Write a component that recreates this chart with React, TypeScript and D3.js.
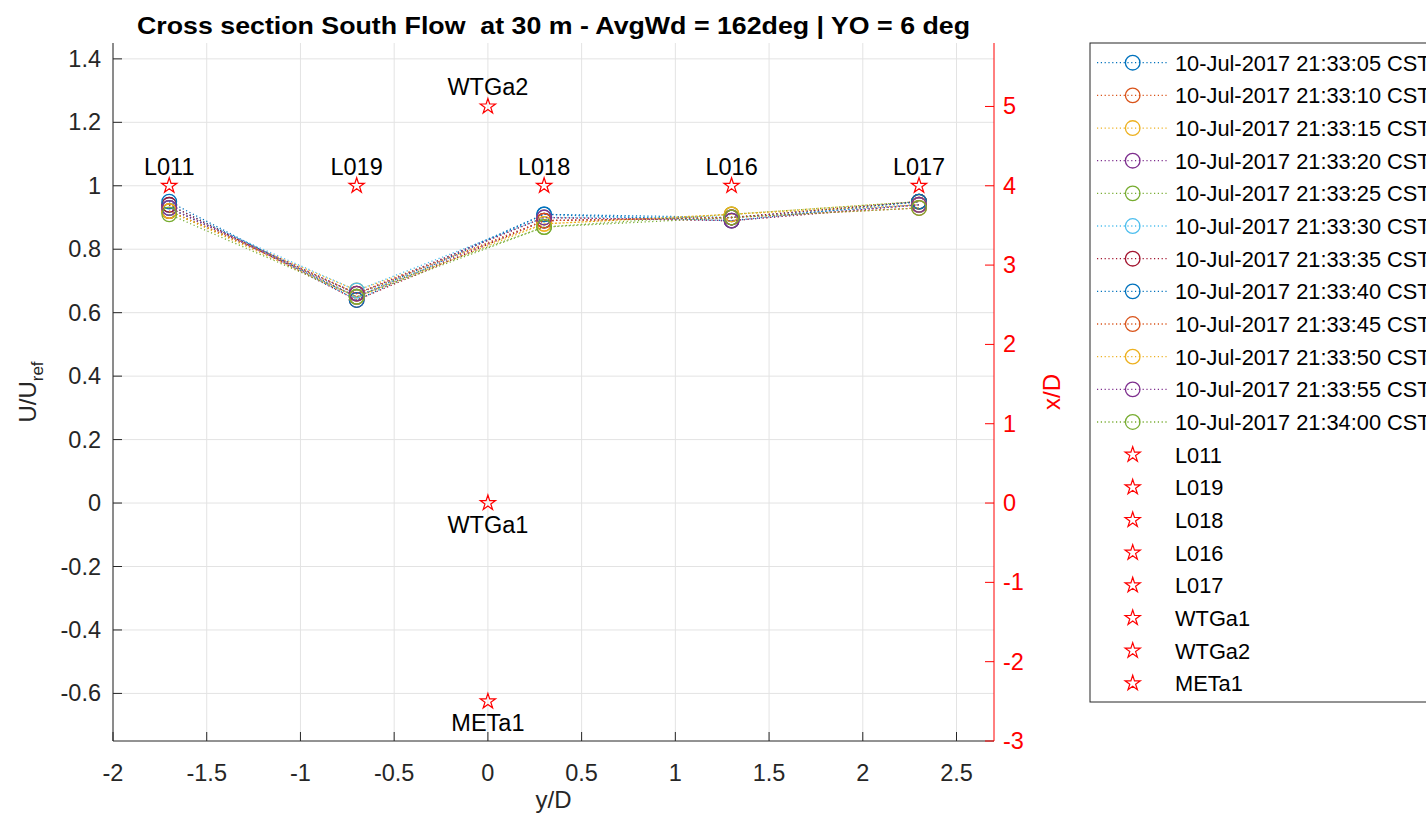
import React from "react";
import * as d3 from "d3";

const xPositions = [-1.7, -0.7, 0.3, 1.3, 2.3];
const seriesNames = [
  "10-Jul-2017 21:33:05 CST",
  "10-Jul-2017 21:33:10 CST",
  "10-Jul-2017 21:33:15 CST",
  "10-Jul-2017 21:33:20 CST",
  "10-Jul-2017 21:33:25 CST",
  "10-Jul-2017 21:33:30 CST",
  "10-Jul-2017 21:33:35 CST",
  "10-Jul-2017 21:33:40 CST",
  "10-Jul-2017 21:33:45 CST",
  "10-Jul-2017 21:33:50 CST",
  "10-Jul-2017 21:33:55 CST",
  "10-Jul-2017 21:34:00 CST",
];
const seriesValues = [
  [0.94, 0.65, 0.91, 0.9, 0.95],
  [0.93, 0.66, 0.9, 0.89, 0.94],
  [0.92, 0.67, 0.88, 0.91, 0.95],
  [0.93, 0.65, 0.89, 0.9, 0.94],
  [0.92, 0.66, 0.87, 0.91, 0.95],
  [0.93, 0.67, 0.9, 0.9, 0.94],
  [0.94, 0.64, 0.89, 0.9, 0.95],
  [0.95, 0.64, 0.91, 0.89, 0.95],
  [0.92, 0.66, 0.89, 0.9, 0.93],
  [0.92, 0.65, 0.88, 0.91, 0.94],
  [0.93, 0.66, 0.9, 0.89, 0.94],
  [0.91, 0.65, 0.87, 0.9, 0.93],
];
const seriesColors = [
  "#0072BD", "#D95319", "#EDB120", "#7E2F8E", "#77AC30", "#4DBEEE", "#A2142F",
  "#0072BD", "#D95319", "#EDB120", "#7E2F8E", "#77AC30",
];

const stationNames = ["L011", "L019", "L018", "L016", "L017", "WTGa1", "WTGa2", "METa1"];
const stationY = [-1.7, -0.7, 0.3, 1.3, 2.3, 0, 0, 0];
const stationX = [4, 4, 4, 4, 4, 0, 5, -2.5];
const stationLabelBelow = [false, false, false, false, false, true, false, true];

const xTicks = [-2, -1.5, -1, -0.5, 0, 0.5, 1, 1.5, 2, 2.5];
const leftTicks = [-0.6, -0.4, -0.2, 0, 0.2, 0.4, 0.6, 0.8, 1, 1.2, 1.4];
const rightTicks = [-3, -2, -1, 0, 1, 2, 3, 4, 5];

const FONT = "'Liberation Sans', Arial, Helvetica, sans-serif";
const AXC = "#262626";

export default function App() {
  const W = 1426, H = 824;
  const L = 113, R = 994, T = 43, B = 741;
  const x = d3.scaleLinear().domain([-2, 2.7]).range([L, R]);
  const yL = d3.scaleLinear().domain([-0.75, 1.45]).range([B, T]);
  const yR = d3.scaleLinear().domain([-3, 5.8]).range([B, T]);
  const line = d3.line<number>().x((_, i) => x(xPositions[i])).y((v) => yL(v));
  const star = d3.symbol().type(d3.symbolStar).size(72)() as string;
  const fmt = (v: number) => String(+v.toFixed(2));

  const legX = 1090, legTop = 43, legBottom = 702;
  const rowH = (683.3 - 62.7) / 19;
  const legendItems = [...seriesNames.map((n, i) => ({ n, i, kind: "s" })), ...stationNames.map((n, i) => ({ n, i, kind: "t" }))];

  return (
    <svg width={W} height={H} style={{ position: "absolute", left: 0, top: 0, background: "#fff" }} fontFamily={FONT}>
      <rect width={W} height={H} fill="#fff" />
      {xTicks.map((t) => (
        <line key={"gx" + t} x1={x(t)} x2={x(t)} y1={T} y2={B} stroke="#e3e3e3" strokeWidth={1} />
      ))}
      {leftTicks.map((t) => (
        <line key={"gy" + t} x1={L} x2={R} y1={yL(t)} y2={yL(t)} stroke="#e3e3e3" strokeWidth={1} />
      ))}
      {seriesValues.map((vals, si) => (
        <g key={"s" + si}>
          <path d={line(vals) as string} fill="none" stroke={seriesColors[si]} strokeWidth={1.3} strokeDasharray="1.2,2.6" />
          {vals.map((v, j) => (
            <circle key={j} cx={x(xPositions[j])} cy={yL(v)} r={7.3} fill="none" stroke={seriesColors[si]} strokeWidth={1.3} />
          ))}
        </g>
      ))}
      {stationNames.map((n, i) => (
        <g key={"st" + n}>
          <path d={star} transform={`translate(${x(stationY[i])},${yR(stationX[i])})`} fill="none" stroke="#ff0000" strokeWidth={1.2} />
          <text x={x(stationY[i])} y={yR(stationX[i]) + (stationLabelBelow[i] ? 30 : -11)} textAnchor="middle" fontSize={23.5} fill="#000">{n}</text>
        </g>
      ))}
      <line x1={L} x2={R} y1={B} y2={B} stroke={AXC} strokeWidth={1} />
      <line x1={L} x2={L} y1={T} y2={B} stroke={AXC} strokeWidth={1} />
      <line x1={R} x2={R} y1={T} y2={B} stroke="#ff0000" strokeWidth={1} />
      {xTicks.map((t) => (
        <g key={"xt" + t}>
          <line x1={x(t)} x2={x(t)} y1={B} y2={B - 9} stroke={AXC} />
          <text x={x(t)} y={781} textAnchor="middle" fontSize={23.5} fill={AXC}>{fmt(t)}</text>
        </g>
      ))}
      {leftTicks.map((t) => (
        <g key={"lt" + t}>
          <line x1={L} x2={L + 9} y1={yL(t)} y2={yL(t)} stroke={AXC} />
          <text x={101} y={yL(t) + 8} textAnchor="end" fontSize={23.5} fill={AXC}>{fmt(t)}</text>
        </g>
      ))}
      {rightTicks.map((t) => (
        <g key={"rt" + t}>
          <line x1={R} x2={R - 9} y1={yR(t)} y2={yR(t)} stroke="#ff0000" />
          <text x={1003} y={yR(t) + 8} textAnchor="start" fontSize={23.5} fill="#ff0000">{fmt(t)}</text>
        </g>
      ))}
      <text x={(L + R) / 2} y={808} textAnchor="middle" fontSize={24} fill={AXC}>y/D</text>
      <text transform={`translate(36,${(T + B) / 2}) rotate(-90)`} textAnchor="middle" fontSize={24} fill={AXC}>
        U/U<tspan fontSize={17} dy={7}>ref</tspan>
      </text>
      <text transform={`translate(1060,${(T + B) / 2}) rotate(-90)`} textAnchor="middle" fontSize={24} fill="#ff0000">x/D</text>
      <text x={(L + R) / 2} y={34} textAnchor="middle" fontSize={24} fontWeight="bold" fill="#000" textLength={833} lengthAdjust="spacingAndGlyphs" style={{ whiteSpace: "pre" }}>
        {"Cross section South Flow  at 30 m - AvgWd = 162deg | YO = 6 deg"}
      </text>
      <rect x={legX} y={legTop} width={400} height={legBottom - legTop} fill="#fff" stroke={AXC} strokeWidth={1} />
      {legendItems.map((it, k) => {
        const cy = 62.7 + k * rowH;
        return (
          <g key={"lg" + k}>
            {it.kind === "s" ? (
              <>
                <line x1={1097} x2={1168} y1={cy} y2={cy} stroke={seriesColors[it.i]} strokeWidth={1.3} strokeDasharray="1.2,2.6" />
                <circle cx={1132.7} cy={cy} r={7.3} fill="none" stroke={seriesColors[it.i]} strokeWidth={1.3} />
              </>
            ) : (
              <path d={star} transform={`translate(1132.7,${cy})`} fill="none" stroke="#ff0000" strokeWidth={1.2} />
            )}
            <text x={1175} y={cy + 8} fontSize={21.8} fill="#000">{it.n}</text>
          </g>
        );
      })}
    </svg>
  );
}
